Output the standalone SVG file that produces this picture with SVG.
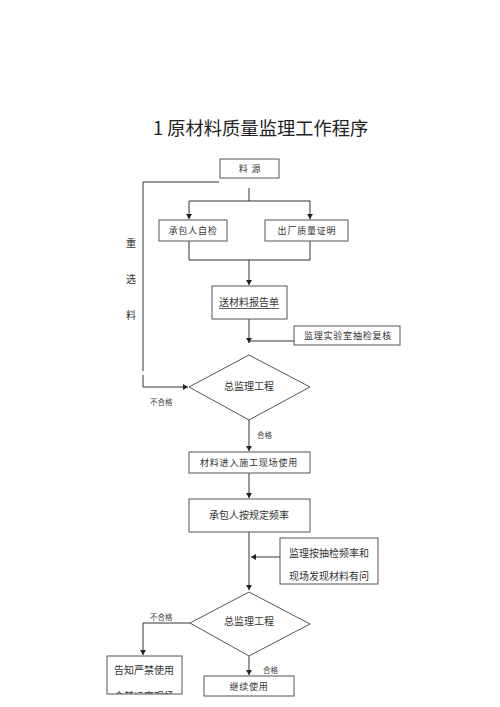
<svg xmlns="http://www.w3.org/2000/svg" width="500" height="707" viewBox="0 0 500 707">
<style>
.box{fill:#fff;stroke:#555;stroke-width:1}
.ln{fill:none;stroke:#333;stroke-width:1}
.t{font-family:"Noto Sans CJK SC","Noto Sans",sans-serif;fill:#333;text-anchor:middle}
.s9{font-size:9px;letter-spacing:0.8px}
.s10{font-size:10px}
.lb{font-family:"Noto Sans CJK SC",sans-serif;fill:#444;font-size:7.5px}
</style>
<defs>
<marker id="ah" markerWidth="6" markerHeight="6" refX="5" refY="3" orient="auto" markerUnits="userSpaceOnUse">
<path d="M0,0 L5,3 L0,6 Z" fill="#222"/>
</marker>
<clipPath id="cl"><rect x="100" y="650" width="90" height="44"/></clipPath>
</defs>
<rect width="500" height="707" fill="#fff"/>
<text x="153" y="135" style="font-family:'Noto Sans CJK SC',sans-serif;font-size:18.3px;fill:#222">1 原材料质量监理工作程序</text>

<g id="connectors">
<path class="ln" d="M219,182 H143 V371 M143,375 V387 H188" marker-end="url(#ah)"/>
<path class="ln" d="M249,188 V201"/>
<path class="ln" d="M189,201 H310"/>
<path class="ln" d="M189,201 V219" marker-end="url(#ah)"/>
<path class="ln" d="M310,201 V219" marker-end="url(#ah)"/>
<path class="ln" d="M189,241 V260 H310 V241"/>
<path class="ln" d="M249,260 V285" marker-end="url(#ah)"/>
<path class="ln" d="M249,319 V343" marker-end="url(#ah)"/>
<path class="ln" d="M294,341 H249"/>
<path class="ln" d="M249,420 V451" marker-end="url(#ah)"/>
<path class="ln" d="M249,473 V498" marker-end="url(#ah)"/>
<path class="ln" d="M249,532 V590" marker-end="url(#ah)"/>
<path class="ln" d="M280,557 H251" marker-end="url(#ah)"/>
<path class="ln" d="M190,623 H143 V655" marker-end="url(#ah)"/>
<path class="ln" d="M249,656 V675" marker-end="url(#ah)"/>
</g>

<g id="side-label">
<text class="t s10" x="131" y="247">重</text>
<text class="t s10" x="131" y="283">选</text>
<text class="t s10" x="131" y="319">料</text>
</g>

<g id="n-source">
<rect class="box" x="220" y="159" width="59" height="19"/>
<text class="t s9" x="250" y="172">料 源</text>
</g>
<g id="n-self">
<rect class="box" x="159" y="220" width="68" height="21"/>
<text class="t s9" x="193" y="234">承包人自检</text>
</g>
<g id="n-cert">
<rect class="box" x="265" y="220" width="83" height="21"/>
<text class="t s9" x="307" y="234">出厂质量证明</text>
</g>
<g id="n-report">
<rect class="box" x="212" y="286" width="75" height="33"/>
<text class="t s10" x="249" y="306">送材料报告单</text>
<line x1="219" y1="308.5" x2="279" y2="308.5" stroke="#333" stroke-width="0.8"/>
</g>
<g id="n-lab">
<rect class="box" x="294" y="326" width="106" height="19"/>
<text class="t s9" x="348" y="339">监理实验室抽检复核</text>
</g>
<g id="n-d1">
<path class="box" d="M249,355 L310,387 L249,420 L189,387 Z"/>
<text class="t s10" x="249" y="390">总监理工程</text>
</g>
<text class="lb" x="150" y="405">不合格</text>
<text class="lb" x="257" y="438">合格</text>
<g id="n-enter">
<rect class="box" x="189" y="452" width="121" height="21"/>
<text class="t s9" x="249" y="466">材料进入施工现场使用</text>
</g>
<g id="n-freq">
<rect class="box" x="189" y="499" width="121" height="33"/>
<text class="t s10" x="249" y="519">承包人按规定频率</text>
</g>
<g id="n-check">
<rect class="box" x="280" y="538" width="98" height="46"/>
<text class="t s10" x="329" y="557">监理按抽检频率和</text>
<text class="t s10" x="329" y="580">现场发现材料有问</text>
</g>
<g id="n-d2">
<path class="box" d="M249,592 L310,624 L249,656 L190,623 Z"/>
<text class="t s10" x="249" y="625">总监理工程</text>
</g>
<text class="lb" x="150" y="620">不合格</text>
<text class="lb" x="263" y="673">合格</text>
<g id="n-forbid">
<rect class="box" x="107" y="656" width="75" height="38"/>
<text class="t s10" x="144" y="674">告知严禁使用</text>
<text class="t s10" x="144" y="700" clip-path="url(#cl)">令其运离现场</text>
</g>
<g id="n-continue">
<rect class="box" x="204" y="676" width="90" height="20"/>
<text class="t s9" x="249" y="690">继续使用</text>
</g>
</svg>
